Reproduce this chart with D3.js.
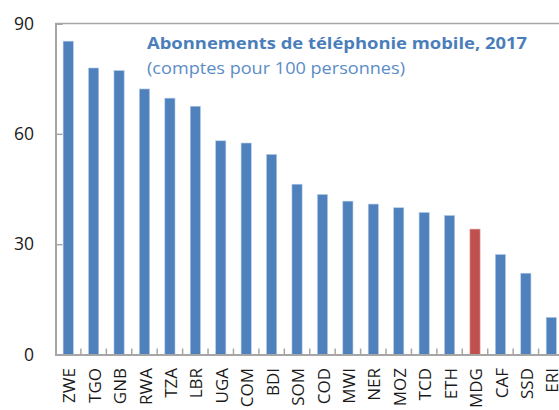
<!DOCTYPE html>
<html>
<head>
<meta charset="utf-8">
<script src="https://cdn.jsdelivr.net/npm/d3@7"></script>
<style>
  html, body { margin: 0; padding: 0; background: #fff; }
  svg { display: block; }
</style>
</head>
<body>
<svg id="chart" width="559" height="410"></svg>
<script>
// Mobile subscriptions per 100 people, 2017
const countries = ["ZWE","TGO","GNB","RWA","TZA","LBR","UGA","COM","BDI","SOM",
                   "COD","MWI","NER","MOZ","TCD","ETH","MDG","CAF","SSD","ERI"];
const subscriptions = [85.2, 77.9, 77.2, 72.2, 69.7, 67.5, 58.1, 57.5, 54.4, 46.3,
                       43.5, 41.7, 40.9, 39.9, 38.6, 37.8, 34.1, 27.2, 22.1, 10.1];
const highlighted = ["MDG"];
const yTicks = [0, 30, 60, 90];
const titleText = "Abonnements de téléphonie mobile, 2017";
const subtitleText = "(comptes pour 100 personnes)";

(function draw() {
  const svg = d3.select("#chart");
  const plotLeft = 55.5, plotRight = 564, plotTop = 23.5, plotBottom = 354.5;

  const x = d3.scaleBand().domain(countries).range([plotLeft, plotRight])
    .paddingInner(0.6).paddingOuter(0.3);
  const xCells = d3.scaleBand().domain(countries).range([plotLeft, plotRight]).padding(0);
  const y = d3.scaleLinear().domain([0, 90]).range([plotBottom, plotTop]);

  const axisColor = "#a6a6a6";

  // top frame line
  svg.append("line")
    .attr("x1", plotLeft).attr("x2", 559).attr("y1", plotTop).attr("y2", plotTop)
    .attr("stroke", axisColor).attr("stroke-width", 1.5);

  // bars
  const data = countries.map((c, i) => ({ c, v: subscriptions[i] }));
  svg.append("g").selectAll("rect").data(data).join("rect")
    .attr("x", d => x(d.c))
    .attr("width", x.bandwidth())
    .attr("y", d => y(d.v))
    .attr("height", d => y(0) - y(d.v))
    .attr("fill", d => highlighted.includes(d.c) ? "#c0504d" : "#4f81bd")
    .attr("stroke", d => highlighted.includes(d.c) ? "#e3a8a6" : "#b3cae6")
    .attr("stroke-width", 0.6);

  // y axis: ticks point into the plot
  const yAxis = svg.append("g").attr("transform", `translate(${plotLeft},0)`)
    .call(d3.axisRight(y).tickValues(yTicks).tickSize(7).tickFormat(""));
  yAxis.select(".domain").attr("stroke", axisColor).attr("stroke-width", 2);
  yAxis.selectAll(".tick line").attr("stroke", axisColor).attr("stroke-width", 1.5);

  svg.append("g").selectAll("text").data(yTicks).join("text")
    .attr("x", 34).attr("y", d => y(d))
    .attr("text-anchor", "end").attr("dy", "0.35em")
    .attr("font-family", "Open Sans, sans-serif").attr("font-size", 17.5)
    .attr("fill", "#1a1a1a")
    .text(d => d);

  // x axis: baseline with short upward ticks between categories
  const xAxis = svg.append("g").attr("transform", `translate(0,${plotBottom})`)
    .call(d3.axisTop(xCells).tickSize(0).tickFormat(""));
  xAxis.select(".domain").attr("stroke", axisColor).attr("stroke-width", 2);
  xAxis.selectAll(".tick").remove();
  xAxis.selectAll("line.sep").data(countries.slice(1)).join("line")
    .attr("class", "sep")
    .attr("x1", d => xCells(d)).attr("x2", d => xCells(d))
    .attr("y1", 0).attr("y2", -6)
    .attr("stroke", axisColor).attr("stroke-width", 1.5);

  // rotated category labels
  svg.append("g").selectAll("text").data(countries).join("text")
    .attr("transform", d => `translate(${x(d) + x.bandwidth() / 2 + 1},368) rotate(-90)`)
    .attr("text-anchor", "end").attr("dy", "0.36em")
    .attr("font-family", "Open Sans, sans-serif").attr("font-size", 17)
    .attr("fill", "#1a1a1a")
    .text(d => d);

  // title block
  svg.append("text")
    .attr("x", 147).attr("y", 48.5)
    .attr("font-family", "Open Sans, sans-serif").attr("font-size", 15.5)
    .attr("font-weight", "bold").attr("fill", "#4a7ebb")
    .attr("textLength", 380).attr("lengthAdjust", "spacingAndGlyphs")
    .text(titleText);
  svg.append("text")
    .attr("x", 147).attr("y", 73.5)
    .attr("font-family", "Open Sans, sans-serif").attr("font-size", 15.5)
    .attr("fill", "#5b8cc6")
    .attr("textLength", 258).attr("lengthAdjust", "spacingAndGlyphs")
    .text(subtitleText);
})();
</script>
</body>
</html>
